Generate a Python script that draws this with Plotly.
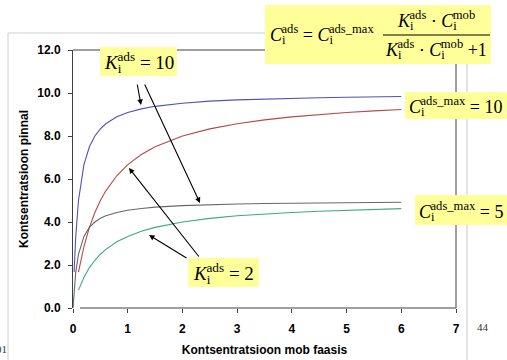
import plotly.graph_objects as go

# ---- data ----
x_k10 = [0.02, 0.05, 0.1, 0.2, 0.3, 0.4, 0.5, 0.6, 0.8, 1.0, 1.25, 1.5, 2.0, 2.5, 3.0, 3.5, 4.0, 4.5, 5.0, 5.5, 6.0]
blue_k10_max10 = [1.67, 3.33, 5.0, 6.67, 7.5, 8.0, 8.33, 8.57, 8.89, 9.09, 9.26, 9.38, 9.52, 9.62, 9.68, 9.72, 9.76, 9.78, 9.80, 9.82, 9.84]
x_black = [0.0] + x_k10
black_k10_max5 = [0.0, 0.83, 1.67, 2.5, 3.33, 3.75, 4.0, 4.17, 4.29, 4.44, 4.55, 4.63, 4.69, 4.76, 4.81, 4.84, 4.86, 4.88, 4.89, 4.90, 4.91, 4.92]
x_k2 = [0.1, 0.2, 0.3, 0.4, 0.5, 0.6, 0.8, 1.0, 1.25, 1.5, 2.0, 2.5, 3.0, 3.5, 4.0, 4.5, 5.0, 5.5, 6.0]
red_k2_max10 = [1.67, 2.86, 3.75, 4.44, 5.0, 5.45, 6.15, 6.67, 7.14, 7.5, 8.0, 8.33, 8.57, 8.75, 8.89, 9.0, 9.09, 9.17, 9.23]
green_k2_max5 = [0.83, 1.43, 1.88, 2.22, 2.5, 2.73, 3.08, 3.33, 3.57, 3.75, 4.0, 4.17, 4.29, 4.38, 4.44, 4.5, 4.55, 4.58, 4.62]

x_ticks = [0, 1, 2, 3, 4, 5, 6, 7]
y_ticks = [0, 2, 4, 6, 8, 10, 12]
x_title = "Kontsentratsioon mob faasis"
y_title = "Kontsentratsioon pinnal"

# ---- layout geometry ----
W, H = 507, 360
ML, MR, MT, MB = 73, 51, 50, 52
PW, PH = W - ML - MR, H - MT - MB
XMAX, YMAX = 7, 12

def P(px, py):
    return (px - ML) / PW, (H - MB - py) / PH

def D(px, py):
    return (px - ML) / PW * XMAX, (H - MB - py) / PH * YMAX

fig = go.Figure()
for xs, ys, col in [(x_k10, blue_k10_max10, "#5252B4"),
                    (x_k2, red_k2_max10, "#B44A4A"),
                    (x_black, black_k10_max5, "#686868"),
                    (x_k2, green_k2_max5, "#3EA884")]:
    fig.add_trace(go.Scatter(x=xs, y=ys, mode="lines", line=dict(color=col, width=1.1),
                             hoverinfo="skip", showlegend=False))

AX_FONT = dict(family="Liberation Sans, Arial", size=12, color="#000000", weight="bold")
fig.update_layout(
    width=W, height=H, autosize=False,
    margin=dict(l=ML, r=MR, t=MT, b=MB, pad=0),
    paper_bgcolor="white", plot_bgcolor="white",
    showlegend=False,
    xaxis=dict(range=[0, XMAX], tickvals=x_ticks, ticktext=[str(v) for v in x_ticks],
               showgrid=False, zeroline=False, showline=False, automargin=False,
               ticks="outside", ticklen=4, tickcolor="#404040",
               tickfont=AX_FONT, ticklabelstandoff=6,
               title=dict(text=x_title, font=AX_FONT, standoff=10)),
    yaxis=dict(range=[0, YMAX], tickvals=y_ticks, ticktext=[f"{v:.1f}" for v in y_ticks],
               showgrid=False, zeroline=False, showline=True, linecolor="#404040", linewidth=1,
               automargin=False,
               ticks="outside", ticklen=4, tickcolor="#404040",
               tickfont=AX_FONT, ticklabelstandoff=5,
               title=dict(text=y_title, font=AX_FONT, standoff=6)),
)

shapes = []
def pline(x0, y0, x1, y1, color, width=1):
    a, b = P(x0, y0); c, d = P(x1, y1)
    shapes.append(dict(type="line", xref="paper", yref="paper", x0=a, y0=b, x1=c, y1=d,
                       line=dict(color=color, width=width)))

def prect(x0, y0, x1, y1, fill):
    a, b = P(x0, y0); c, d = P(x1, y1)
    shapes.append(dict(type="rect", xref="paper", yref="paper", x0=a, y0=b, x1=c, y1=d,
                       fillcolor=fill, line=dict(width=0), layer="above"))

# slide frame (light gray)
pline(8, 33, 467, 33, "#D0D0D0")
pline(8, 33, 8, 360, "#D0D0D0")
pline(467, 33, 467, 360, "#C8C8C8")
# plot frame
pline(73, 50, 456, 50, "#404040")
pline(456, 50, 456, 308, "#404040")
pline(80, 308, 456, 308, "#404040")

YEL = "#FFFF99"
prect(265, 5, 491, 64, YEL)
prect(100, 47, 177, 76, YEL)
prect(405, 92, 507, 119, YEL)
prect(415, 195, 507, 225, YEL)
prect(188, 258, 259, 287, YEL)
fig.update_layout(shapes=shapes)
# fraction bar drawn over box
a, b = P(383, 35); c, d = P(490, 35)
fig.add_shape(type="line", xref="paper", yref="paper", x0=a, y0=b, x1=c, y1=d,
              line=dict(color="black", width=1), layer="above")

MF = dict(family="Liberation Serif, Times New Roman", size=19, color="black")

def var(letter, sub, sup, ls=-4):
    return (f"<i>{letter}</i><sub style='letter-spacing:{ls}px'>{sub}</sub>"
            f"<sup>{sup}</sup>")

def label(cx, cy, text, size=19):
    x, y = P(cx, cy)
    fig.add_annotation(x=x, y=y, xref="paper", yref="paper", text=text, showarrow=False,
                       xanchor="center", yanchor="middle",
                       font=dict(MF, size=size), borderpad=0)

label(138.5, 61, var("K", "i", "ads") + " = 10")
label(223.5, 272, var("K", "i", "ads") + " = 2")
label(455, 105, var("C", "i", "ads_max") + " = 10", size=18)
label(461, 210, var("C", "i", "ads_max") + " = 5", size=18)
label(322, 34, var("C", "i", "ads") + " = " + var("C", "i", "ads_max"), size=18)
label(436, 19, var("K", "i", "ads") + " \u22c5 " + var("C", "i", "mob"), size=18)
label(436, 48, var("K", "i", "ads") + " \u22c5 " + var("C", "i", "mob") + " +1", size=18)

# arrows (tail -> tip, pixel positions)
for (tx, ty), (hx, hy) in [((137, 83), (141, 105)), ((144, 83), (200, 203)),
                           ((200, 258), (129, 168)), ((188, 259), (149, 235))]:
    x, y = D(hx, hy); ax, ay = D(tx, ty)
    fig.add_annotation(x=x, y=y, ax=ax, ay=ay, xref="x", yref="y", axref="x", ayref="y",
                       text="", showarrow=True, arrowhead=2, arrowsize=1, arrowwidth=1.1,
                       arrowcolor="black")

# slide decorations
x, y = P(491, 335)
fig.add_annotation(x=x, y=y, xref="paper", yref="paper", text="44", showarrow=False,
                   font=dict(family="Liberation Serif", size=11, color="#333333"))
x, y = P(9, 357)
fig.add_annotation(x=x, y=y, xref="paper", yref="paper", text="01", showarrow=False,
                   xanchor="right", font=dict(family="Liberation Serif", size=11, color="#333333"))

fig.write_html("out.html", config={"displayModeBar": False},
               post_script="document.body.style.margin='0';")
